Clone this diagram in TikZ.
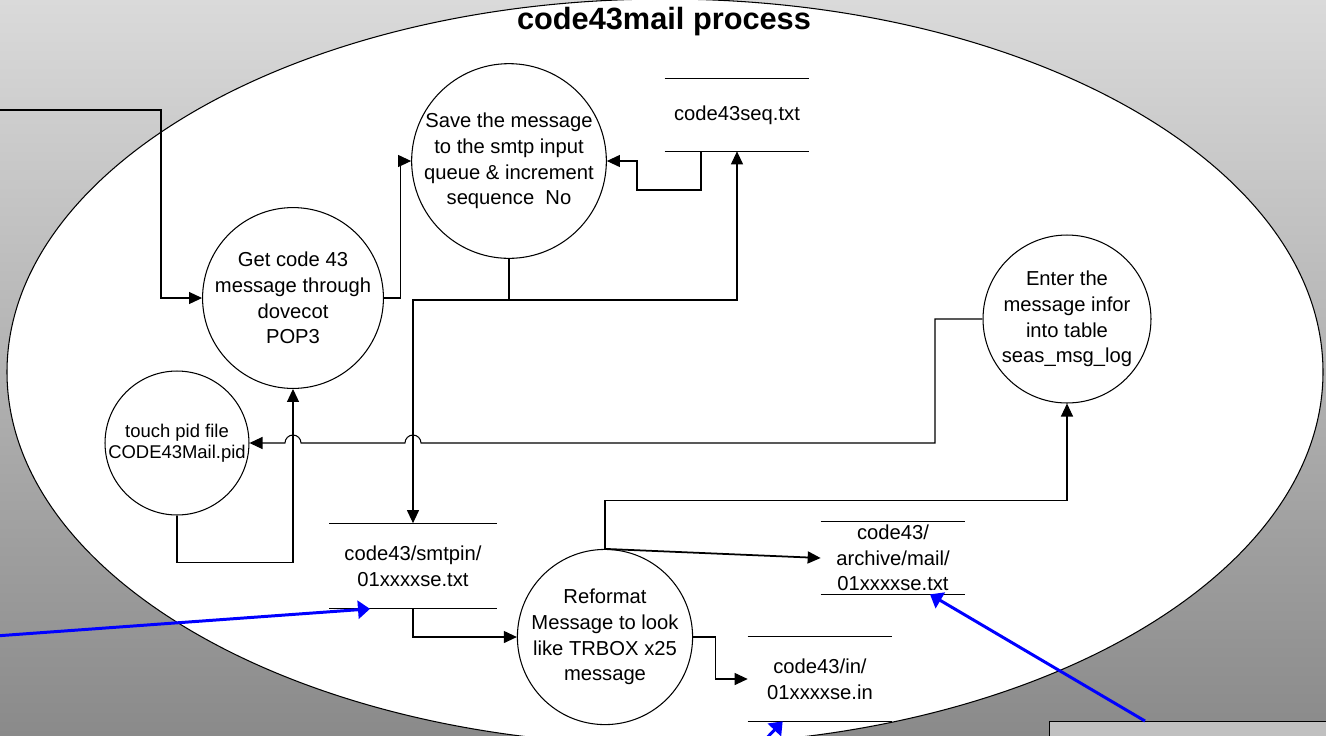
\documentclass[tikz,border=0pt]{standalone}
\usepackage{fontspec}
\setmainfont{Liberation Sans}
\usetikzlibrary{calc,arrows.meta}
\definecolor{bgtop}{RGB}{218,218,218}
\definecolor{bgbottom}{RGB}{138,138,138}
\definecolor{notegray}{RGB}{192,192,192}
\definecolor{linkblue}{RGB}{0,0,255}

\begin{document}
\begin{tikzpicture}[
		x=0.02cm, y=-0.02cm,
		flow/.style={line width=0.6pt,-{Triangle[length=0.26cm,width=0.24cm]}},
		link/.style={line width=1.7pt,draw=linkblue,-{Triangle[length=0.24cm,width=0.36cm]}},
		process/.style={circle,draw,fill=white,line width=0.6pt,inner sep=0pt,align=center,
			font=\fontsize{11.5}{14.6}\selectfont},
		store/.style={rectangle,inner sep=0pt,align=center,font=\fontsize{11.5}{14.6}\selectfont,
			append after command={(\tikzlastnode.north west) edge[line width=0.6pt] (\tikzlastnode.north east)
				(\tikzlastnode.south west) edge[line width=0.6pt] (\tikzlastnode.south east)}}]

		\clip (0,0) rectangle (1326,735);
		\shade[top color=bgtop,bottom color=bgbottom] (0,0) rectangle (1326,735);
		\draw[fill=white,line width=0.6pt] (665,372) ellipse [x radius=658,y radius=373];

		\node[font=\bfseries\fontsize{17.5}{20}\selectfont] (title) at (664,22) {code43mail process};

		% processes
		\node[process,minimum size=3.4cm]  (get)      at (293,298)  {Get code 43\\message through\\dovecot\\POP3};
		\node[process,minimum size=3.6cm]  (save)     at (509,161)  {Save the message\\to the smtp input\\queue \& increment\\sequence~~No};
		\node[process,minimum size=2.88cm,font=\fontsize{10.5}{12}\selectfont]
		                                   (touch)    at (177,443)  {touch pid file\\CODE43Mail.pid};
		\node[process,minimum size=3.32cm] (reformat) at (605,637)  {Reformat\\Message to look\\like TRBOX x25\\message};
		\node[process,minimum size=3.36cm] (enter)    at (1067,319) {Enter the\\message infor\\into table\\seas\_msg\_log};

		% stores
		\node[store,minimum width=2.88cm,minimum height=1.44cm] (seq)     at (737,115) {code43seq.txt};
		\node[store,minimum width=3.34cm,minimum height=1.7cm]  (smtpin)  at (413,566) {code43/smtpin/\\01xxxxse.txt};
		\node[store,minimum width=2.88cm,minimum height=1.44cm] (archive) at (893,558) {code43/\\archive/mail/\\01xxxxse.txt};
		\node[store,minimum width=2.88cm,minimum height=1.68cm] (in)      at (820,679) {code43/in/\\01xxxxse.in};

		\node[draw,fill=notegray,line width=0.6pt,anchor=north west,minimum width=6cm,minimum height=1cm] (note) at (1049,721) {};

		% flows
		\coordinate (mailin) at (-5,110);
		\coordinate (split) at (509,300);
		\draw[flow] (mailin) -- (161,110) |- (get.west);
		\draw[flow] (get.east) -- ++(17,0) |- (save.west);
		\draw[flow] ($(seq.south)+(-36,0)$) |- (637,190) |- (save.east);
		\draw[line width=0.6pt] (save.south) -- (split);
		\draw[flow] (split) -| (seq.south);
		\draw[flow] (split) -| (smtpin.north);
		\draw[flow] (touch.south) -- ++(0,47) -| (get.south);
		\draw[flow] (enter.west) -| (935,443) -- (421,443) arc[start angle=0,end angle=-180,radius=8]
			-- (301,443) arc[start angle=0,end angle=-180,radius=8] -- (touch.east);
		\draw[flow] (smtpin.south) |- (reformat.west);
		\draw[flow] (reformat.east) -- ++(22,0) |- (in.west);
		\draw[flow] (reformat.north) -- ++(0,-48) -| (enter.south);
		\draw[flow,line width=1pt] (reformat.north) -- (archive.west);

		% blue links
		\coordinate (feedleft) at (-5,636);
		\coordinate (feedbottom) at (760,745);
		\draw[link] (feedleft) -- ($(smtpin.south)+(-43,0)$);
		\draw[link] ($(note.north west)+(96,0)$) -- ($(archive.south)+(37,0)$);
		\draw[link] (feedbottom) -- ($(in.south west)+(35,0)$);

\end{tikzpicture}
\end{document}
